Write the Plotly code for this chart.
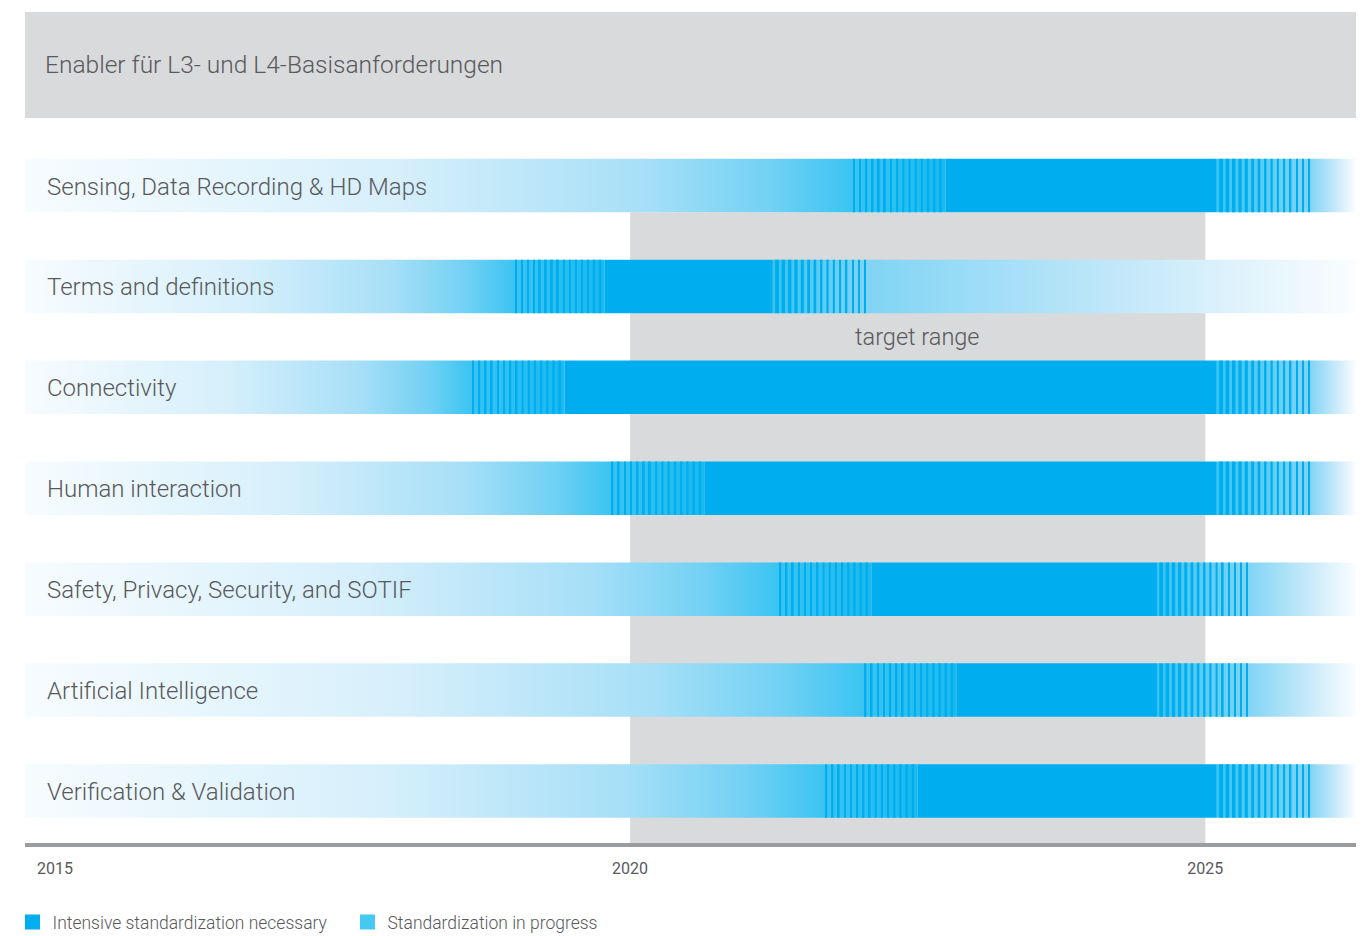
import plotly.graph_objects as go

# ---------------- data ----------------
categories = [
    "Sensing, Data Recording & HD Maps",
    "Terms and definitions",
    "Connectivity",
    "Human interaction",
    "Safety, Privacy, Security, and SOTIF",
    "Artificial Intelligence",
    "Verification & Validation",
]
# transition (standardization in progress -> intensive) begins
ramp_in_start = [2021.94, 2019.00, 2018.63, 2019.84, 2021.30, 2022.04, 2021.70]
# intensive standardization necessary: start / end
intensive_start = [2022.74, 2019.78, 2019.43, 2020.65, 2022.10, 2022.84, 2022.50]
intensive_end = [2025.10, 2021.24, 2025.10, 2025.10, 2024.58, 2024.58, 2025.10]
# transition back to "in progress" ends
ramp_out_end = [2025.91, 2022.05, 2025.91, 2025.91, 2025.37, 2025.37, 2025.91]

target_range = [2020, 2025]
year_ticks = [2015, 2020, 2025]
year_labels = ["2015", "2020", "2025"]
axis_start, axis_end = 2014.74, 2026.31

title_text = "Enabler für L3- und L4-Basisanforderungen"
target_label = "target range"
legend_names = ["Intensive standardization necessary", "Standardization in progress"]

# ---------------- style ----------------
DARK = "#00aeef"
MID = "#45c8f2"
GREY = "#d9dadc"
TEXT = "#58595b"
FONT = "Roboto"
H = 0.265          # half bar thickness (y units)
N_STRIPES = 15
Y_RANGE = [6.515, -0.669]

fig = go.Figure()

# gradient backgrounds (base axes)
for k in range(len(categories)):
    s1, s2, s3, s4 = ramp_in_start[k], intensive_start[k], intensive_end[k], ramp_out_end[k]
    f = (s1 - axis_start) / (s2 - axis_start)
    fig.add_trace(go.Scatter(
        x=[axis_start, s2, s2, axis_start, axis_start],
        y=[k - H, k - H, k + H, k + H, k - H],
        mode="lines", line=dict(width=0), fill="toself",
        fillgradient=dict(type="horizontal", colorscale=[
            [0, "#f7fcfe"], [0.45 * f, "#d6effb"], [0.75 * f, "#a6dff7"],
            [0.9 * f, "#72d1f4"], [f, "#3ac4f2"], [1, "#1ab9f0"]]),
        hoverinfo="skip", showlegend=False))
    g = (s4 - s3) / (axis_end - s3)
    fig.add_trace(go.Scatter(
        x=[s3, axis_end, axis_end, s3, s3],
        y=[k - H, k - H, k + H, k + H, k - H],
        mode="lines", line=dict(width=0), fill="toself",
        fillgradient=dict(type="horizontal", colorscale=[
            [0, "#38c3f1"], [g, "#80d4f5"], [g + (1 - g) * 0.5, "#c0e7f9"], [1, "#fbfdff"]]),
        hoverinfo="skip", showlegend=False))

# dark segments: solid block + stripes (overlay axes, drawn above gradients)
bx, bbase, by = [], [], []
for k in range(len(categories)):
    s1, s2, s3, s4 = ramp_in_start[k], intensive_start[k], intensive_end[k], ramp_out_end[k]
    p_in = (s2 - s1) / N_STRIPES
    for i in range(N_STRIPES):
        w = p_in * (0.25 + 0.15 * i / (N_STRIPES - 1))
        bbase.append(s1 + i * p_in); bx.append(w); by.append(k)
    bbase.append(s2); bx.append(s3 - s2); by.append(k)
    p_out = (s4 - s3) / N_STRIPES
    for i in range(N_STRIPES):
        w = p_out * (0.62 - 0.45 * i / (N_STRIPES - 1))
        end = s3 + (i + 1) * p_out
        bbase.append(end - w); bx.append(w); by.append(k)

fig.add_trace(go.Bar(
    x=bx, base=bbase, y=by, orientation="h", width=2 * H,
    marker=dict(color=DARK, line=dict(width=0)),
    xaxis="x2", yaxis="y2", hoverinfo="skip", showlegend=False))

# legend entries
for name, col in zip(legend_names, [DARK, MID]):
    fig.add_trace(go.Scatter(
        x=[None], y=[None], mode="markers", name=name,
        marker=dict(symbol="square", size=15, color=col)))

# shapes: header and target range
fig.add_shape(type="rect", xref="paper", yref="paper", x0=0, x1=1, y0=1.0, y1=1.1462,
              fillcolor=GREY, line=dict(width=0), layer="below")
fig.add_shape(type="rect", xref="x", yref="y", x0=target_range[0], x1=target_range[1],
              y0=H, y1=Y_RANGE[0], fillcolor=GREY, line=dict(width=0), layer="below")

# annotations
fig.add_annotation(xref="paper", yref="paper", x=0.0135, y=1.0735, text=title_text,
                   showarrow=False, xanchor="left", yanchor="middle",
                   font=dict(family=FONT, size=24.5, color=TEXT, weight=300))
for k, cat in enumerate(categories):
    fig.add_annotation(x=axis_start + 20 / 115, y=k, text=cat, showarrow=False,
                       xanchor="left", yanchor="middle", yshift=-1,
                       font=dict(family=FONT, size=24, color=TEXT, weight=300))
fig.add_annotation(x=sum(target_range) / 2, y=1.5, text=target_label, showarrow=False,
                   xanchor="center", yanchor="middle",
                   font=dict(family=FONT, size=23.5, color=TEXT, weight=300))

fig.update_layout(
    width=1366, height=936,
    margin=dict(l=25, r=10, t=118, b=93, autoexpand=False),
    paper_bgcolor="white", plot_bgcolor="white",
    barmode="overlay",
    xaxis=dict(range=[axis_start, axis_end], tickvals=year_ticks, ticktext=year_labels,
               showgrid=False, zeroline=False, showline=True, linewidth=4,
               linecolor="#9b9c9f", ticks="outside", ticklen=8,
               tickcolor="rgba(0,0,0,0)",
               tickfont=dict(family=FONT, size=16, color=TEXT)),
    yaxis=dict(range=Y_RANGE, visible=False, showgrid=False, zeroline=False),
    xaxis2=dict(range=[axis_start, axis_end], overlaying="x", visible=False),
    yaxis2=dict(range=Y_RANGE, overlaying="y", visible=False),
    legend=dict(orientation="h", x=-0.0094, y=-0.109, xanchor="left", yanchor="middle",
                entrywidth=290, entrywidthmode="pixels",
                font=dict(family=FONT, size=17.5, color=TEXT, weight=300),
                bgcolor="rgba(0,0,0,0)"),
    showlegend=True,
)

fig.write_html("out.html")
